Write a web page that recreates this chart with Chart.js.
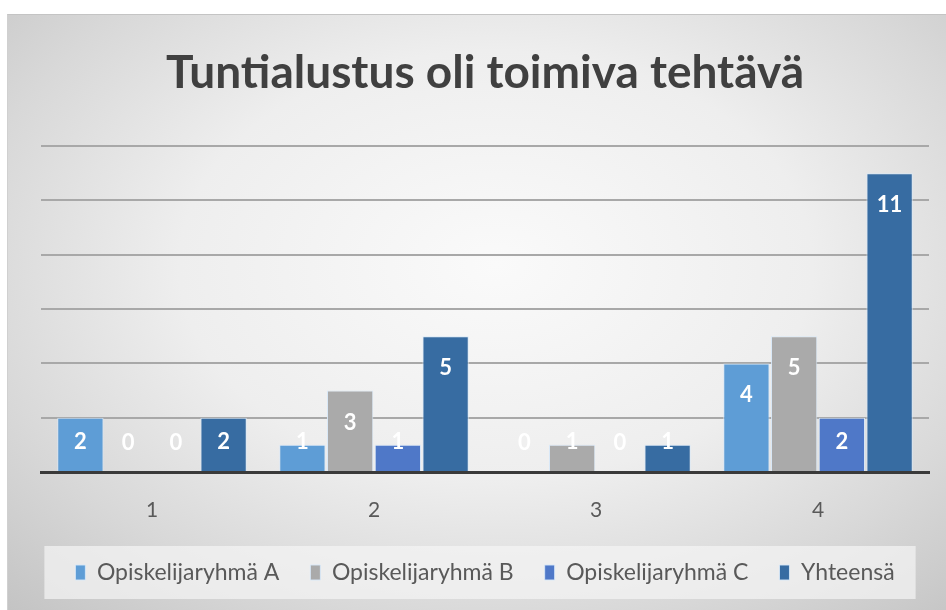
<!DOCTYPE html>
<html lang="fi">
<head>
<meta charset="utf-8">
<title>Tuntialustus oli toimiva tehtävä</title>
<script src="https://cdn.jsdelivr.net/npm/chart.js@4.4.1/dist/chart.umd.min.js"></script>
<style>
  body { margin: 0; background: #fff; }
  #wrap {
    position: absolute; left: 7px; top: 14px; width: 939px; height: 596px;
    box-sizing: border-box; border-top: 1px solid #c4c4c4; border-left: 1px solid #d0d0d0;
    background: radial-gradient(ellipse 75% 80% at 52% 42%, #fafafa 0%, #eeeeee 45%, #d8d8d8 75%, #c4c4c4 100%);
  }
  canvas { display: block; }
</style>
</head>
<body>
<div id="wrap"><canvas id="chart" width="938" height="595"></canvas></div>
<script>
// Kysymyksen vastaukset ryhmittäin
const categories = ['1', '2', '3', '4'];
const groupA = [2, 1, 0, 4];
const groupB = [0, 3, 1, 5];
const groupC = [0, 1, 0, 2];
const total  = [2, 5, 1, 11];
const seriesNames = ['Opiskelijaryhmä A', 'Opiskelijaryhmä B', 'Opiskelijaryhmä C', 'Yhteensä'];
const seriesColors = ['#5e9dd6', '#aaaaaa', '#4f78c8', '#376ca2'];

const FONT = 'Lato, "Open Sans", sans-serif';

// arvot valkoisella palkin sisään (kuten Excelissä)
const barLabels = {
  id: 'barLabels',
  afterDatasetsDraw(chart) {
    const ctx = chart.ctx;
    ctx.save();
    ctx.font = 'bold 22px ' + FONT;
    ctx.fillStyle = '#ffffff';
    ctx.textAlign = 'center';
    ctx.textBaseline = 'middle';
    chart.data.datasets.forEach((ds, i) => {
      chart.getDatasetMeta(i).data.forEach((bar, j) => {
        const y = Math.min(bar.y + 32, bar.base - 29);
        ctx.fillText(String(ds.data[j]), bar.x, y);
      });
    });
    ctx.restore();
  }
};

// vaalea laatikko selitteen taakse
const legendBox = {
  id: 'legendBox',
  beforeDraw(chart) {
    const boxes = chart.legend && chart.legend.legendHitBoxes;
    if (!boxes || !boxes.length) return;
    const left = Math.min(...boxes.map(b => b.left)) - 31;
    const right = Math.max(...boxes.map(b => b.left + b.width)) + 21;
    const top = Math.min(...boxes.map(b => b.top)) - 15;
    const bottom = Math.max(...boxes.map(b => b.top + b.height)) + 15;
    const ctx = chart.ctx;
    ctx.save();
    ctx.fillStyle = 'rgba(245,245,245,0.7)';
    ctx.fillRect(left, top, right - left, bottom - top);
    ctx.restore();
  }
};

const ctx = document.getElementById('chart').getContext('2d');
new Chart(ctx, {
  type: 'bar',
  data: {
    labels: categories,
    datasets: [groupA, groupB, groupC, total].map((d, i) => ({
      label: seriesNames[i],
      data: d,
      backgroundColor: seriesColors[i],
      borderColor: 'rgba(215,232,248,0.9)',
      borderWidth: 1,
      categoryPercentage: 0.86,
      barPercentage: 0.97
    }))
  },
  options: {
    responsive: false,
    animation: false,
    layout: { padding: { left: 33, right: 17, top: 0, bottom: 16 } },
    plugins: {
      title: {
        display: true,
        text: 'Tuntialustus oli toimiva tehtävä',
        color: '#404040',
        font: { family: FONT, size: 46, weight: 'bold' },
        padding: { top: 31, bottom: 45 }
      },
      legend: {
        position: 'bottom',
        labels: {
          color: '#595959',
          font: { family: FONT, size: 23 },
          boxWidth: 10,
          boxHeight: 15,
          padding: 31
        }
      },
      tooltip: { enabled: false }
    },
    scales: {
      x: {
        grid: { display: false, drawTicks: false },
        border: { display: true, color: '#3a3a3a', width: 3 },
        ticks: { color: '#595959', font: { family: FONT, size: 21 }, padding: 26 },
        afterFit(scale) { scale.height = 58; }
      },
      y: {
        min: 0, max: 12,
        ticks: { display: false, stepSize: 2 },
        grid: { color: '#a8a8a8', lineWidth: 2, drawTicks: false },
        border: { display: false }
      }
    }
  },
  plugins: [legendBox, barLabels]
});
</script>
</body>
</html>
